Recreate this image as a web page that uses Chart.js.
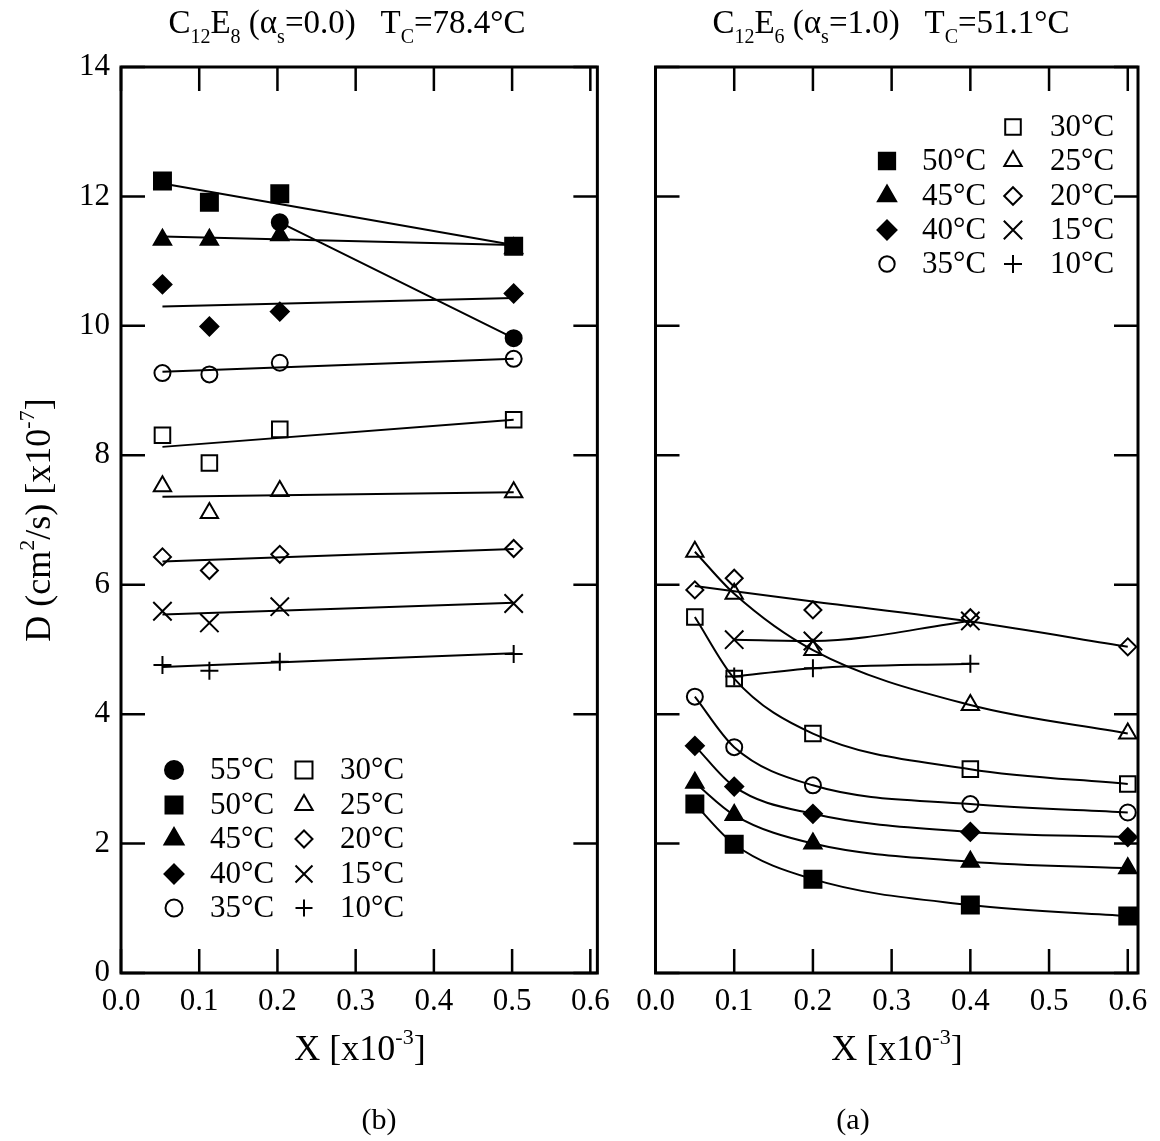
<!DOCTYPE html>
<html>
<head>
<meta charset="utf-8">
<script src="https://cdn.jsdelivr.net/npm/chart.js@4.4.1/dist/chart.umd.min.js"></script>
<style>
  html, body { margin: 0; padding: 0; background: #fff; }
  #wrap { position: relative; width: 1160px; height: 1141px; }
  .panel { position: absolute; top: 0; }
  #panelB { left: 0; }
  #panelA { left: 620px; }
</style>
</head>
<body>
<div id="wrap">
  <div class="panel" id="panelB"><canvas id="chartB" width="620" height="1141"></canvas></div>
  <div class="panel" id="panelA"><canvas id="chartA" width="540" height="1141"></canvas></div>
</div>
<script>
const SERIF = '"Liberation Serif", "Times New Roman", serif';

// axes
const xTicks = [0, 0.1, 0.2, 0.3, 0.4, 0.5, 0.6];
const xTickLabels = ['0.0', '0.1', '0.2', '0.3', '0.4', '0.5', '0.6'];
const yTicks = [0, 2, 4, 6, 8, 10, 12, 14];
const yTickLabels = ['0', '2', '4', '6', '8', '10', '12', '14'];

// (b) C12E8 - measured D at each X
const xB = [0.053, 0.113, 0.203, 0.502];
const b55 = [null, null, 11.60, 9.81];
const b50 = [12.24, 11.91, 12.04, 11.23];
const b45 = [11.33, 11.33, 11.40, 11.20];
const b40 = [10.64, 9.99, 10.22, 10.50];
const b35 = [9.27, 9.25, 9.43, 9.49];
const b30 = [8.31, 7.88, 8.40, 8.55];
const b25 = [7.52, 7.11, 7.45, 7.43];
const b20 = [6.43, 6.22, 6.47, 6.56];
const b15 = [5.59, 5.41, 5.66, 5.71];
const b10 = [4.76, 4.67, 4.81, 4.93];

// (b) straight fit lines, value at first and last X
const fitXB = [0.053, 0.502];
const fitB50 = [12.20, 11.25];
const fitB45 = [11.38, 11.25];
const fitB40 = [10.30, 10.43];
const fitB35 = [9.29, 9.49];
const fitB30 = [8.13, 8.55];
const fitB25 = [7.36, 7.43];
const fitB20 = [6.36, 6.55];
const fitB15 = [5.54, 5.72];
const fitB10 = [4.73, 4.94];

// (a) C12E6 - measured D at each X
const xA = [0.05, 0.1, 0.2, 0.4, 0.6];
const a50 = [2.61, 1.99, 1.45, 1.05, 0.88];
const a45 = [2.94, 2.44, 2.00, 1.72, 1.62];
const a40 = [3.51, 2.88, 2.46, 2.18, 2.10];
const a35 = [4.27, 3.49, 2.90, 2.61, 2.48];
const a30 = [5.50, 4.55, 3.70, 3.15, 2.92];
const a25 = [6.51, 5.86, 4.99, 4.14, 3.70];
const a20 = [5.92, 6.10, 5.61, 5.49, 5.04];
const a15 = [null, 5.15, 5.13, 5.44, null];
const a10 = [null, 4.58, 4.71, 4.78, null];

// (a) smoothed trend through the 20°C points
const fitXA20 = [0.05, 0.2, 0.4, 0.6];
const fitA20 = [5.98, 5.74, 5.43, 5.04];

// symbol per temperature
const markers = {
  55: { pointStyle: 'circle', fill: true, radius: 8 },
  50: { pointStyle: 'rect', fill: true, radius: 12 },
  45: { pointStyle: 'triangle', fill: true, radius: 10 },
  40: { pointStyle: 'rectRot', fill: true, radius: 9 },
  35: { pointStyle: 'circle', fill: false, radius: 8 },
  30: { pointStyle: 'rect', fill: false, radius: 11 },
  25: { pointStyle: 'triangle', fill: false, radius: 10 },
  20: { pointStyle: 'rectRot', fill: false, radius: 8.5 },
  15: { pointStyle: 'crossRot', fill: false, radius: 13 },
  10: { pointStyle: 'cross', fill: false, radius: 9 }
};

const pts = (xs, ys) => xs.map((x, i) => ({ x: x, y: ys[i] })).filter(p => p.y != null);

function markerSet(t, xs, ys, line) {
  const m = markers[t];
  return {
    label: t + '°C',
    data: pts(xs, ys),
    showLine: !!line,
    cubicInterpolationMode: 'monotone',
    borderColor: '#000',
    borderWidth: 2,
    pointStyle: m.pointStyle,
    pointRadius: m.radius,
    pointHoverRadius: m.radius,
    pointBackgroundColor: m.fill ? '#000' : 'rgba(0,0,0,0)',
    pointBorderColor: '#000',
    pointBorderWidth: 2
  };
}

function fitSet(xs, ys) {
  return {
    data: pts(xs, ys),
    showLine: true,
    cubicInterpolationMode: 'monotone',
    pointRadius: 0,
    pointHoverRadius: 0,
    borderColor: '#000',
    borderWidth: 2
  };
}

function drawMarker(ctx, t, x, y, r) {
  const m = markers[t];
  ctx.fillStyle = m.fill ? '#000' : 'rgba(0,0,0,0)';
  ctx.strokeStyle = '#000';
  ctx.lineWidth = 2;
  Chart.helpers.drawPoint(ctx, { pointStyle: m.pointStyle, radius: r, borderWidth: 2, rotation: 0 }, x, y);
}

// parts: [text, 0 normal | 1 subscript | 2 superscript], centred on x
function richText(ctx, parts, x, y, size) {
  const fontFor = k => (k ? Math.round(size * 0.62) : size) + 'px ' + SERIF;
  let w = 0;
  parts.forEach(([s, k]) => { ctx.font = fontFor(k); w += ctx.measureText(s).width; });
  let cx = x - w / 2;
  ctx.textAlign = 'left';
  ctx.textBaseline = 'alphabetic';
  parts.forEach(([s, k]) => {
    ctx.font = fontFor(k);
    const dy = k === 1 ? size * 0.29 : k === 2 ? -size * 0.45 : 0;
    ctx.fillText(s, cx, y + dy);
    cx += ctx.measureText(s).width;
  });
}

const panelDecor = {
  id: 'panelDecor',
  afterDraw(chart, args, o) {
    const { ctx, chartArea: a } = chart;
    const x = chart.scales.x, y = chart.scales.y;
    ctx.save();
    ctx.strokeStyle = '#000';
    ctx.fillStyle = '#000';

    // inward ticks on all four sides
    ctx.lineWidth = 2.5;
    ctx.beginPath();
    xTicks.forEach(v => {
      const px = x.getPixelForValue(v);
      ctx.moveTo(px, a.bottom); ctx.lineTo(px, a.bottom - 24);
      ctx.moveTo(px, a.top); ctx.lineTo(px, a.top + 24);
    });
    yTicks.forEach(v => {
      const py = y.getPixelForValue(v);
      ctx.moveTo(a.left, py); ctx.lineTo(a.left + 24, py);
      ctx.moveTo(a.right, py); ctx.lineTo(a.right - 24, py);
    });
    ctx.stroke();
    ctx.lineWidth = 3;
    ctx.strokeRect(a.left, a.top, a.right - a.left, a.bottom - a.top);

    // panel title, x title, panel letter
    richText(ctx, o.title, o.titleX, 33, 33);
    richText(ctx, [['X [x10', 0], ['-3', 2], [']', 0]], o.xTitleX, 1060, 36);
    ctx.font = '30px ' + SERIF;
    ctx.textAlign = 'center';
    ctx.textBaseline = 'middle';
    ctx.fillText(o.letter, o.letterX, 1121);

    if (o.yTitle) {
      ctx.save();
      ctx.translate(50, 520);
      ctx.rotate(-Math.PI / 2);
      richText(ctx, [['D (cm', 0], ['2', 2], ['/s) [x10', 0], ['-7', 2], [']', 0]], 0, 0, 36);
      ctx.restore();
    }

    // legend
    o.legend.forEach(([t, mx, tx, ly, r]) => {
      drawMarker(ctx, t, mx, ly, r);
      ctx.fillStyle = '#000';
      ctx.font = '31px ' + SERIF;
      ctx.textAlign = 'left';
      ctx.textBaseline = 'middle';
      ctx.fillText(t + '°C', tx, ly + 1);
    });
    ctx.restore();
  }
};

function xScale(max) {
  return {
    type: 'linear', min: 0, max: max,
    grid: { display: false, drawTicks: false },
    border: { display: false },
    afterBuildTicks: s => { s.ticks = xTicks.map(v => ({ value: v })); },
    afterFit: s => { s.height = 50; },
    ticks: {
      padding: 10, color: '#000', autoSkip: false, maxRotation: 0,
      font: { family: SERIF, size: 31 },
      callback: (v, i) => xTickLabels[i]
    }
  };
}

function yScale(show) {
  return {
    type: 'linear', min: 0, max: 14, display: show,
    grid: { display: false, drawTicks: false },
    border: { display: false },
    afterBuildTicks: s => { s.ticks = yTicks.map(v => ({ value: v })); },
    afterFit: s => { s.width = show ? 121 : 0; },
    ticks: {
      padding: 11, color: '#000', autoSkip: false,
      font: { family: SERIF, size: 31 },
      callback: (v, i) => yTickLabels[i]
    }
  };
}

function baseOptions(padding, xMax, showY, decor) {
  return {
    responsive: false,
    animation: false,
    events: [],
    layout: { padding: padding },
    plugins: { legend: { display: false }, tooltip: { enabled: false }, panelDecor: decor },
    scales: { x: xScale(xMax), y: yScale(showY) }
  };
}

// left panel (b)
new Chart(document.getElementById('chartB'), {
  type: 'scatter',
  data: {
    datasets: [
      markerSet(55, xB, b55, true),
      markerSet(50, xB, b50), fitSet(fitXB, fitB50),
      markerSet(45, xB, b45), fitSet(fitXB, fitB45),
      markerSet(40, xB, b40), fitSet(fitXB, fitB40),
      markerSet(35, xB, b35), fitSet(fitXB, fitB35),
      markerSet(30, xB, b30), fitSet(fitXB, fitB30),
      markerSet(25, xB, b25), fitSet(fitXB, fitB25),
      markerSet(20, xB, b20), fitSet(fitXB, fitB20),
      markerSet(15, xB, b15), fitSet(fitXB, fitB15),
      markerSet(10, xB, b10), fitSet(fitXB, fitB10)
    ]
  },
  options: baseOptions({ left: 0, top: 67, right: 20, bottom: 118 }, 0.609, true, {
    title: [['C', 0], ['12', 1], ['E', 0], ['8', 1], [' (α', 0], ['s', 1], ['=0.0)   T', 0], ['C', 1], ['=78.4°C', 0]],
    titleX: 347,
    xTitleX: 360,
    letter: '(b)',
    letterX: 379,
    yTitle: true,
    legend: [
      [55, 174, 210, 770, 9], [50, 174, 210, 805, 12], [45, 174, 210, 839, 11],
      [40, 174, 210, 874, 9.5], [35, 174, 210, 908, 8.5],
      [30, 304, 340, 770, 12], [25, 304, 340, 805, 10], [20, 304, 340, 839, 8.5],
      [15, 304, 340, 874, 12], [10, 304, 340, 908, 8.5]
    ]
  }),
  plugins: [panelDecor]
});

// right panel (a)
new Chart(document.getElementById('chartA'), {
  type: 'scatter',
  data: {
    datasets: [
      markerSet(50, xA, a50, true),
      markerSet(45, xA, a45, true),
      markerSet(40, xA, a40, true),
      markerSet(35, xA, a35, true),
      markerSet(30, xA, a30, true),
      markerSet(25, xA, a25, true),
      markerSet(20, xA, a20), fitSet(fitXA20, fitA20),
      markerSet(15, xA, a15, true),
      markerSet(10, xA, a10, true)
    ]
  },
  options: baseOptions({ left: 35.5, top: 67, right: 22, bottom: 118 }, 0.613, false, {
    title: [['C', 0], ['12', 1], ['E', 0], ['6', 1], [' (α', 0], ['s', 1], ['=1.0)   T', 0], ['C', 1], ['=51.1°C', 0]],
    titleX: 271,
    xTitleX: 277,
    letter: '(a)',
    letterX: 233,
    yTitle: false,
    legend: [
      [30, 393, 430, 127, 11],
      [50, 267, 302, 161, 11.5], [25, 393, 430, 161, 10],
      [45, 267, 302, 196, 10.5], [20, 393, 430, 196, 8.8],
      [40, 267, 302, 230, 9.5], [15, 393, 430, 230, 13],
      [35, 267, 302, 264, 7.7], [10, 393, 430, 264, 9]
    ]
  }),
  plugins: [panelDecor]
});
</script>
</body>
</html>
